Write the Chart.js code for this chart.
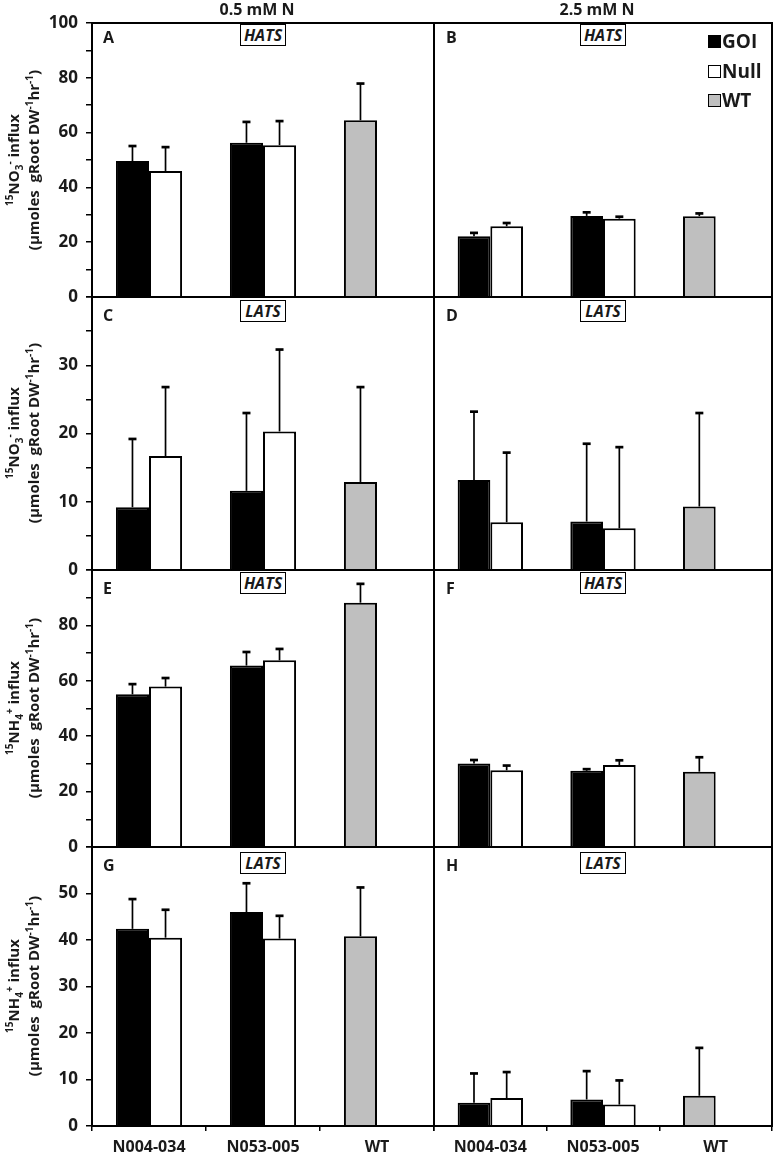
<!DOCTYPE html>
<html>
<head>
<meta charset="utf-8">
<script src="https://cdn.jsdelivr.net/npm/chart.js@4.4.1/dist/chart.umd.min.js"></script>
<style>
  html, body { margin: 0; padding: 0; background: #fff; overflow: hidden; }
  #fig { position: relative; width: 777px; height: 1159px; font-family: 'Open Sans', Lato, sans-serif; color: #1a1a1a; }
  .wrap { position: absolute; }
  .ttl { position: absolute; font-weight: 700; font-size: 16px; line-height: 18px; transform: translateX(-50%); white-space: nowrap; }
  .ylab { position: absolute; width: 280px; height: 40px; text-align: center; font-weight: 700; font-size: 15px; line-height: 20px; transform: rotate(-90deg); white-space: nowrap; }
  .tag { position: absolute; font-weight: 700; font-size: 16px; line-height: 16px; }
  .box { position: absolute; width: 44px; height: 20px; border: 1.5px solid #000; background: #fff; font-weight: 700; font-style: italic; font-size: 16px; line-height: 20px; text-align: center; }
  .leg { position: absolute; left: 708px; height: 20px; display: flex; align-items: center; font-weight: 700; font-size: 19px; }
  .sw { width: 11px; height: 11px; border: 1.5px solid #000; margin-right: 1px; }
  sup, sub { font-size: 10px; line-height: 0; }
</style>
</head>
<body>
<div id="fig">
  <div class="wrap" style="left:0;top:13px;width:444px;height:294px"><canvas id="pA"></canvas></div>
  <div class="wrap" style="left:424px;top:13px;width:358px;height:294px"><canvas id="pB"></canvas></div>
  <div class="wrap" style="left:0;top:287px;width:444px;height:293px"><canvas id="pC"></canvas></div>
  <div class="wrap" style="left:424px;top:287px;width:358px;height:293px"><canvas id="pD"></canvas></div>
  <div class="wrap" style="left:0;top:560px;width:444px;height:297px"><canvas id="pE"></canvas></div>
  <div class="wrap" style="left:424px;top:560px;width:358px;height:297px"><canvas id="pF"></canvas></div>
  <div class="wrap" style="left:0;top:837px;width:444px;height:322px"><canvas id="pG"></canvas></div>
  <div class="wrap" style="left:424px;top:837px;width:358px;height:322px"><canvas id="pH"></canvas></div>

  <div class="ttl" style="left:257px;top:0">0.5 mM N</div>
  <div class="ttl" style="left:597px;top:0">2.5 mM N</div>

  <div class="ylab" style="left:-117px;top:140px"><sup>15</sup>NO<sub>3</sub><sup>-</sup> influx<br>(µmoles&nbsp; gRoot DW<sup>-1</sup>hr<sup>-1</sup>)</div>
  <div class="ylab" style="left:-117px;top:413px"><sup>15</sup>NO<sub>3</sub><sup>-</sup> influx<br>(µmoles&nbsp; gRoot DW<sup>-1</sup>hr<sup>-1</sup>)</div>
  <div class="ylab" style="left:-117px;top:688px"><sup>15</sup>NH<sub>4</sub><sup>+</sup> influx<br>(µmoles&nbsp; gRoot DW<sup>-1</sup>hr<sup>-1</sup>)</div>
  <div class="ylab" style="left:-117px;top:966px"><sup>15</sup>NH<sub>4</sub><sup>+</sup> influx<br>(µmoles&nbsp; gRoot DW<sup>-1</sup>hr<sup>-1</sup>)</div>

  <div class="tag" style="left:103px;top:29px">A</div>
  <div class="tag" style="left:446px;top:29px">B</div>
  <div class="tag" style="left:103px;top:307px">C</div>
  <div class="tag" style="left:446px;top:307px">D</div>
  <div class="tag" style="left:103px;top:580px">E</div>
  <div class="tag" style="left:446px;top:580px">F</div>
  <div class="tag" style="left:103px;top:857px">G</div>
  <div class="tag" style="left:446px;top:857px">H</div>

  <div class="box" style="left:240px;top:24px">HATS</div>
  <div class="box" style="left:580px;top:24px">HATS</div>
  <div class="box" style="left:240px;top:300px">LATS</div>
  <div class="box" style="left:580px;top:300px">LATS</div>
  <div class="box" style="left:240px;top:572px">HATS</div>
  <div class="box" style="left:580px;top:572px">HATS</div>
  <div class="box" style="left:240px;top:852px">LATS</div>
  <div class="box" style="left:580px;top:852px">LATS</div>

  <div class="leg" style="top:31px"><span class="sw" style="background:#000"></span>GOI</div>
  <div class="leg" style="top:61px"><span class="sw" style="background:#fff"></span>Null</div>
  <div class="leg" style="top:90px"><span class="sw" style="background:#bfbfbf"></span>WT</div>
</div>

<script>
// ── data (third GOI slot holds the WT bar) ──
const categories = ['N004-034', 'N053-005', 'WT'];

const goiA = [49.6, 56.3, 64.5];   const goiErrA = [5.5, 7.6, 13.4];
const nullA = [46.0, 55.4, null];  const nullErrA = [8.7, 8.8, null];
const goiB = [22.2, 29.6, 29.5];   const goiErrB = [1.2, 1.3, 1.0];
const nullB = [25.8, 28.6, null];  const nullErrB = [1.2, 0.7, null];

const goiC = [9.2, 11.6, 12.9];    const goiErrC = [10.0, 11.4, 13.9];
const nullC = [16.7, 20.3, null];  const nullErrC = [10.1, 12.0, null];
const goiD = [13.2, 7.1, 9.3];     const goiErrD = [10.0, 11.4, 13.7];
const nullD = [7.0, 6.1, null];    const nullErrD = [10.2, 11.9, null];

const goiE = [55.1, 65.5, 88.2];   const goiErrE = [3.7, 4.9, 6.8];
const nullE = [57.9, 67.4, null];  const nullErrE = [3.1, 4.1, null];
const goiF = [30.1, 27.5, 27.2];   const goiErrF = [1.3, 0.6, 5.2];
const nullF = [27.7, 29.6, null];  const nullErrF = [1.7, 1.7, null];

const goiG = [42.4, 46.0, 40.8];   const goiErrG = [6.4, 6.2, 10.5];
const nullG = [40.5, 40.3, null];  const nullErrG = [6.0, 4.9, null];
const goiH = [5.0, 5.7, 6.5];      const goiErrH = [6.3, 6.1, 10.3];
const nullH = [6.0, 4.6, null];    const nullErrH = [5.6, 5.2, null];

// y scales per row: [max, minor step, labelled step, label the top?]
const scaleNO3hats = [100, 10, 20, true];
const scaleNO3lats = [40, 5, 10, false];
const scaleNH4hats = [100, 10, 20, false];
const scaleNH4lats = [60, 5, 10, false];

Chart.defaults.font.family = "'Open Sans', Lato, sans-serif";
Chart.defaults.color = '#1a1a1a';

// upper-only error bars
const errorBars = {
  id: 'errorBars',
  afterDatasetsDraw(chart) {
    const ctx = chart.ctx, ys = chart.scales.y;
    ctx.save();
    ctx.strokeStyle = '#000';
    chart.data.datasets.forEach((ds, d) => {
      chart.getDatasetMeta(d).data.forEach((bar, i) => {
        const v = ds.data[i], e = ds.err[i];
        if (v == null || e == null) return;
        const top = ys.getPixelForValue(v + e);
        ctx.lineWidth = 1.7;
        ctx.beginPath(); ctx.moveTo(bar.x, bar.y); ctx.lineTo(bar.x, top); ctx.stroke();
        ctx.lineWidth = 2.7;
        ctx.beginPath(); ctx.moveTo(bar.x - 4, top); ctx.lineTo(bar.x + 4, top); ctx.stroke();
      });
    });
    ctx.restore();
  }
};

// box round each panel
const frame = {
  id: 'frame',
  afterDraw(chart) {
    const { ctx, chartArea: a } = chart;
    ctx.save();
    ctx.strokeStyle = '#000';
    ctx.lineWidth = 2;
    ctx.strokeRect(a.left, a.top, a.right - a.left, a.bottom - a.top);
    ctx.restore();
  }
};

function panel(id, goi, goiErr, nul, nulErr, yCfg, left, bottom) {
  const [max, minor, major, showTop] = yCfg;
  new Chart(document.getElementById(id), {
    type: 'bar',
    data: {
      labels: categories,
      datasets: [
        { label: 'GOI', data: goi, err: goiErr, backgroundColor: ['#000', '#000', '#bfbfbf'] },
        { label: 'Null', data: nul, err: nulErr, backgroundColor: '#fff' },
      ],
    },
    options: {
      responsive: true,
      maintainAspectRatio: false,
      animation: false,
      layout: { padding: { left: left ? 0 : 10, right: 10, top: 10, bottom: bottom ? 0 : 10 } },
      datasets: {
        bar: { borderColor: '#000', borderWidth: 2, categoryPercentage: 0.58, barPercentage: 1 },
      },
      plugins: { legend: { display: false }, tooltip: { enabled: false } },
      scales: {
        x: {
          border: { display: false },
          grid: { drawOnChartArea: false, drawTicks: bottom, tickLength: 5, color: '#000', lineWidth: 1.5 },
          ticks: { display: bottom, padding: 7, font: { size: 16, weight: 'bold' } },
          afterFit: s => { s.height = bottom ? 33 : 0; s.paddingLeft = 0; s.paddingRight = 0; },
        },
        y: {
          min: 0,
          max,
          border: { display: false },
          grid: { drawOnChartArea: false, drawTicks: left, tickLength: 6, color: '#000', lineWidth: 1.5 },
          ticks: {
            display: left,
            stepSize: minor,
            padding: 8,
            font: { size: 17, weight: 'bold' },
            callback: v => (v % major === 0 && (v < max || showTop)) ? v : '',
          },
          afterFit: s => { s.width = left ? 92 : 0; s.paddingTop = 0; s.paddingBottom = 0; },
        },
      },
    },
    plugins: [errorBars, frame],
  });
}

panel('pA', goiA, goiErrA, nullA, nullErrA, scaleNO3hats, true, false);
panel('pB', goiB, goiErrB, nullB, nullErrB, scaleNO3hats, false, false);
panel('pC', goiC, goiErrC, nullC, nullErrC, scaleNO3lats, true, false);
panel('pD', goiD, goiErrD, nullD, nullErrD, scaleNO3lats, false, false);
panel('pE', goiE, goiErrE, nullE, nullErrE, scaleNH4hats, true, false);
panel('pF', goiF, goiErrF, nullF, nullErrF, scaleNH4hats, false, false);
panel('pG', goiG, goiErrG, nullG, nullErrG, scaleNH4lats, true, true);
panel('pH', goiH, goiErrH, nullH, nullErrH, scaleNH4lats, false, true);
</script>
</body>
</html>
